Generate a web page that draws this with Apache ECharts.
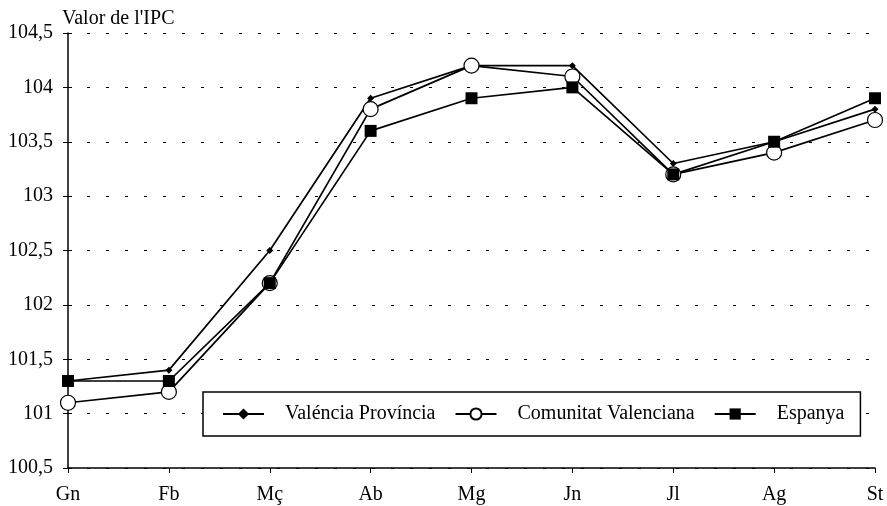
<!DOCTYPE html>
<html>
<head>
<meta charset="utf-8">
<script src="https://cdn.jsdelivr.net/npm/echarts@6/dist/echarts.min.js"></script>
<style>html,body{margin:0;padding:0;background:#fff}#c{width:887px;height:506px}</style>
</head>
<body>
<div id="c"></div>
<script>
const months = ['Gn','Fb','Mç','Ab','Mg','Jn','Jl','Ag','St'];
const valenciaProvincia = [101.3, 101.4, 102.5, 103.9, 104.2, 104.2, 103.3, 103.5, 103.8];
const comunitatValenciana = [101.1, 101.2, 102.2, 103.8, 104.2, 104.1, 103.2, 103.4, 103.7];
const espanya = [101.3, 101.3, 102.2, 103.6, 103.9, 104.0, 103.2, 103.5, 103.9];
const seriesNames = ['Valéncia Província', 'Comunitat Valenciana', 'Espanya'];
const yAxisName = "Valor de l'IPC";

const FONT = "'Liberation Serif', 'Times New Roman', serif";
const chart = echarts.init(document.getElementById('c'), null, {renderer: 'canvas'});
const fmt = v => String(v).replace('.', ',');
chart.setOption({
  animation: false,
  backgroundColor: '#fff',
  textStyle: {fontFamily: FONT, color: '#000'},
  grid: {left: 68, right: 12, top: 33, bottom: 38},
  legend: {
    left: 203, top: 392,
    orient: 'horizontal',
    backgroundColor: '#fff',
    borderColor: '#000', borderWidth: 1.5, borderRadius: 0,
    padding: [12, 16, 12, 19],
    itemWidth: 41, itemHeight: 14, itemGap: 19,
    textStyle: {fontFamily: FONT, fontSize: 20, color: '#000', padding: [0, 0, 0, 16]},
    data: seriesNames
  },
  xAxis: {
    type: 'category', data: months, boundaryGap: false,
    axisLine: {lineStyle: {color: '#000', width: 1.5}},
    axisTick: {inside: false, length: 5, lineStyle: {color: '#000', width: 1}},
    axisLabel: {fontFamily: FONT, fontSize: 20, color: '#000', margin: 17},
    splitLine: {show: false}
  },
  yAxis: [{
    type: 'value', min: 100.5, max: 104.5, interval: 0.5,
    name: yAxisName, nameLocation: 'end', nameGap: 4,
    nameTextStyle: {fontFamily: FONT, fontSize: 20, color: '#000', align: 'left', padding: [0, 0, 0, -6]},
    axisLine: {show: true, lineStyle: {color: '#000', width: 1.5}},
    axisTick: {show: true, length: 5, lineStyle: {color: '#000', width: 1}},
    axisLabel: {fontFamily: FONT, fontSize: 20, color: '#000', margin: 15, formatter: fmt},
    splitLine: {show: true, lineStyle: {color: '#000', width: 1, type: [3, 16]}}
  }, {
    type: 'value', min: 100.5, max: 104.5, interval: 0.5, position: 'left',
    axisLine: {show: false},
    axisTick: {show: true, inside: true, length: 4, lineStyle: {color: '#000', width: 1}},
    axisLabel: {show: false}, splitLine: {show: false}
  }],
  series: [
    {name: seriesNames[0], type: 'line', data: valenciaProvincia, symbol: 'diamond', symbolSize: 7,
     itemStyle: {color: '#000'}, lineStyle: {color: '#000', width: 1.7}},
    {name: seriesNames[1], type: 'line', data: comunitatValenciana, symbol: 'circle', symbolSize: 15,
     itemStyle: {color: '#fff', borderColor: '#000', borderWidth: 1.2}, lineStyle: {color: '#000', width: 1.7}},
    {name: seriesNames[2], type: 'line', data: espanya, symbol: 'rect', symbolSize: 12,
     itemStyle: {color: '#000'}, lineStyle: {color: '#000', width: 1.7}}
  ]
});
</script>
</body>
</html>
